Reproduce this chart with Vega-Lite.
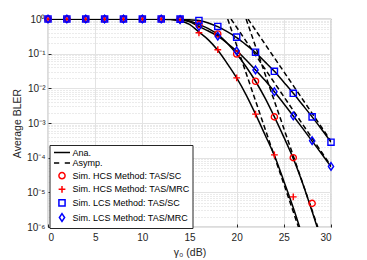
{
  "$schema": "https://vega.github.io/schema/vega-lite/v6.json",
  "width": 283,
  "height": 208,
  "autosize": "none",
  "padding": {"left": 48, "top": 19, "right": 36, "bottom": 33},
  "background": "white",
  "config": {
    "font": "Liberation Sans",
    "view": {"stroke": "#262626", "strokeWidth": 0.8},
    "axis": {"labelFont": "Liberation Sans", "titleFont": "Liberation Sans", "labelColor": "#262626", "titleColor": "#262626", "titleFontWeight": "normal", "labelFontSize": 10, "titleFontSize": 10.5}
  },
  "datasets": {
    "sim": [
      {"x":0,"y":1,"s":"Sim. HCS Method: TAS/SC"},{"x":2,"y":1,"s":"Sim. HCS Method: TAS/SC"},{"x":4,"y":1,"s":"Sim. HCS Method: TAS/SC"},{"x":6,"y":1,"s":"Sim. HCS Method: TAS/SC"},{"x":8,"y":1,"s":"Sim. HCS Method: TAS/SC"},{"x":10,"y":1,"s":"Sim. HCS Method: TAS/SC"},{"x":12,"y":1,"s":"Sim. HCS Method: TAS/SC"},{"x":14,"y":0.97,"s":"Sim. HCS Method: TAS/SC"},{"x":16,"y":0.69,"s":"Sim. HCS Method: TAS/SC"},{"x":18,"y":0.37,"s":"Sim. HCS Method: TAS/SC"},{"x":20,"y":0.098,"s":"Sim. HCS Method: TAS/SC"},{"x":22,"y":0.016,"s":"Sim. HCS Method: TAS/SC"},{"x":24,"y":0.0015,"s":"Sim. HCS Method: TAS/SC"},{"x":26,"y":0.0001,"s":"Sim. HCS Method: TAS/SC"},{"x":28,"y":0.0000048,"s":"Sim. HCS Method: TAS/SC"},
      {"x":0,"y":1,"s":"Sim. HCS Method: TAS/MRC"},{"x":2,"y":1,"s":"Sim. HCS Method: TAS/MRC"},{"x":4,"y":1,"s":"Sim. HCS Method: TAS/MRC"},{"x":6,"y":1,"s":"Sim. HCS Method: TAS/MRC"},{"x":8,"y":1,"s":"Sim. HCS Method: TAS/MRC"},{"x":10,"y":1,"s":"Sim. HCS Method: TAS/MRC"},{"x":12,"y":1,"s":"Sim. HCS Method: TAS/MRC"},{"x":14,"y":0.92,"s":"Sim. HCS Method: TAS/MRC"},{"x":16,"y":0.4,"s":"Sim. HCS Method: TAS/MRC"},{"x":18,"y":0.13,"s":"Sim. HCS Method: TAS/MRC"},{"x":20,"y":0.02,"s":"Sim. HCS Method: TAS/MRC"},{"x":22,"y":0.0018,"s":"Sim. HCS Method: TAS/MRC"},{"x":24,"y":0.00012,"s":"Sim. HCS Method: TAS/MRC"},{"x":26,"y":0.0000074,"s":"Sim. HCS Method: TAS/MRC"},
      {"x":0,"y":1,"s":"Sim. LCS Method: TAS/SC"},{"x":2,"y":1,"s":"Sim. LCS Method: TAS/SC"},{"x":4,"y":1,"s":"Sim. LCS Method: TAS/SC"},{"x":6,"y":1,"s":"Sim. LCS Method: TAS/SC"},{"x":8,"y":1,"s":"Sim. LCS Method: TAS/SC"},{"x":10,"y":1,"s":"Sim. LCS Method: TAS/SC"},{"x":12,"y":1,"s":"Sim. LCS Method: TAS/SC"},{"x":14,"y":0.99,"s":"Sim. LCS Method: TAS/SC"},{"x":16,"y":0.91,"s":"Sim. LCS Method: TAS/SC"},{"x":18,"y":0.61,"s":"Sim. LCS Method: TAS/SC"},{"x":20,"y":0.3,"s":"Sim. LCS Method: TAS/SC"},{"x":22,"y":0.11,"s":"Sim. LCS Method: TAS/SC"},{"x":24,"y":0.031,"s":"Sim. LCS Method: TAS/SC"},{"x":26,"y":0.0072,"s":"Sim. LCS Method: TAS/SC"},{"x":28,"y":0.0015,"s":"Sim. LCS Method: TAS/SC"},{"x":30,"y":0.00028,"s":"Sim. LCS Method: TAS/SC"},
      {"x":0,"y":1,"s":"Sim. LCS Method: TAS/MRC"},{"x":2,"y":1,"s":"Sim. LCS Method: TAS/MRC"},{"x":4,"y":1,"s":"Sim. LCS Method: TAS/MRC"},{"x":6,"y":1,"s":"Sim. LCS Method: TAS/MRC"},{"x":8,"y":1,"s":"Sim. LCS Method: TAS/MRC"},{"x":10,"y":1,"s":"Sim. LCS Method: TAS/MRC"},{"x":12,"y":1,"s":"Sim. LCS Method: TAS/MRC"},{"x":14,"y":0.96,"s":"Sim. LCS Method: TAS/MRC"},{"x":16,"y":0.61,"s":"Sim. LCS Method: TAS/MRC"},{"x":18,"y":0.32,"s":"Sim. LCS Method: TAS/MRC"},{"x":20,"y":0.12,"s":"Sim. LCS Method: TAS/MRC"},{"x":22,"y":0.034,"s":"Sim. LCS Method: TAS/MRC"},{"x":24,"y":0.008,"s":"Sim. LCS Method: TAS/MRC"},{"x":26,"y":0.0016,"s":"Sim. LCS Method: TAS/MRC"},{"x":28,"y":0.00031,"s":"Sim. LCS Method: TAS/MRC"},{"x":30,"y":0.000056,"s":"Sim. LCS Method: TAS/MRC"}
    ],
    "ana": [
      {"x":0,"y":1,"c":"hmrc"},{"x":5,"y":1,"c":"hmrc"},{"x":10,"y":0.9999,"c":"hmrc"},{"x":11,"y":0.999,"c":"hmrc"},{"x":12,"y":0.99,"c":"hmrc"},{"x":13,"y":0.965,"c":"hmrc"},{"x":14,"y":0.89,"c":"hmrc"},{"x":15,"y":0.7,"c":"hmrc"},{"x":16,"y":0.42,"c":"hmrc"},{"x":17,"y":0.25,"c":"hmrc"},{"x":18,"y":0.125,"c":"hmrc"},{"x":19,"y":0.052,"c":"hmrc"},{"x":20,"y":0.02,"c":"hmrc"},{"x":21,"y":0.0065,"c":"hmrc"},{"x":22,"y":0.0018,"c":"hmrc"},{"x":23,"y":0.00046,"c":"hmrc"},{"x":24,"y":0.000115,"c":"hmrc"},{"x":25,"y":0.000021,"c":"hmrc"},{"x":26,"y":0.0000036,"c":"hmrc"},{"x":27,"y":0.00000052,"c":"hmrc"},
      {"x":0,"y":1,"c":"hsc"},{"x":5,"y":1,"c":"hsc"},{"x":10,"y":1,"c":"hsc"},{"x":11,"y":0.9995,"c":"hsc"},{"x":12,"y":0.997,"c":"hsc"},{"x":13,"y":0.99,"c":"hsc"},{"x":14,"y":0.96,"c":"hsc"},{"x":15,"y":0.87,"c":"hsc"},{"x":16,"y":0.69,"c":"hsc"},{"x":17,"y":0.53,"c":"hsc"},{"x":18,"y":0.36,"c":"hsc"},{"x":19,"y":0.2,"c":"hsc"},{"x":20,"y":0.098,"c":"hsc"},{"x":21,"y":0.042,"c":"hsc"},{"x":22,"y":0.016,"c":"hsc"},{"x":23,"y":0.0053,"c":"hsc"},{"x":24,"y":0.0015,"c":"hsc"},{"x":25,"y":0.00039,"c":"hsc"},{"x":26,"y":0.000095,"c":"hsc"},{"x":27,"y":0.000018,"c":"hsc"},{"x":28,"y":0.0000028,"c":"hsc"},{"x":29,"y":0.0000004,"c":"hsc"},
      {"x":0,"y":1,"c":"lmrc"},{"x":5,"y":1,"c":"lmrc"},{"x":10,"y":1,"c":"lmrc"},{"x":11,"y":0.9995,"c":"lmrc"},{"x":12,"y":0.997,"c":"lmrc"},{"x":13,"y":0.985,"c":"lmrc"},{"x":14,"y":0.95,"c":"lmrc"},{"x":15,"y":0.83,"c":"lmrc"},{"x":16,"y":0.61,"c":"lmrc"},{"x":17,"y":0.45,"c":"lmrc"},{"x":18,"y":0.32,"c":"lmrc"},{"x":19,"y":0.2,"c":"lmrc"},{"x":20,"y":0.12,"c":"lmrc"},{"x":21,"y":0.066,"c":"lmrc"},{"x":22,"y":0.034,"c":"lmrc"},{"x":23,"y":0.017,"c":"lmrc"},{"x":24,"y":0.008,"c":"lmrc"},{"x":25,"y":0.0036,"c":"lmrc"},{"x":26,"y":0.0016,"c":"lmrc"},{"x":27,"y":0.0007,"c":"lmrc"},{"x":28,"y":0.0003,"c":"lmrc"},{"x":29,"y":0.00013,"c":"lmrc"},{"x":30,"y":0.000055,"c":"lmrc"},
      {"x":0,"y":1,"c":"lsc"},{"x":5,"y":1,"c":"lsc"},{"x":10,"y":1,"c":"lsc"},{"x":11,"y":0.9998,"c":"lsc"},{"x":12,"y":0.999,"c":"lsc"},{"x":13,"y":0.995,"c":"lsc"},{"x":14,"y":0.98,"c":"lsc"},{"x":15,"y":0.95,"c":"lsc"},{"x":16,"y":0.9,"c":"lsc"},{"x":17,"y":0.77,"c":"lsc"},{"x":18,"y":0.6,"c":"lsc"},{"x":19,"y":0.43,"c":"lsc"},{"x":20,"y":0.29,"c":"lsc"},{"x":21,"y":0.18,"c":"lsc"},{"x":22,"y":0.107,"c":"lsc"},{"x":23,"y":0.058,"c":"lsc"},{"x":24,"y":0.031,"c":"lsc"},{"x":25,"y":0.015,"c":"lsc"},{"x":26,"y":0.0072,"c":"lsc"},{"x":27,"y":0.0033,"c":"lsc"},{"x":28,"y":0.0015,"c":"lsc"},{"x":29,"y":0.00066,"c":"lsc"},{"x":30,"y":0.00028,"c":"lsc"}
    ],
    "asym": [
      {"x":19.05,"y":1,"c":"hmrc"},{"x":26.55,"y":0.000001,"c":"hmrc"},
      {"x":21.0,"y":1,"c":"hsc"},{"x":28.6,"y":0.000001,"c":"hsc"},
      {"x":19.4,"y":1,"c":"lmrc"},{"x":30,"y":0.0000575,"c":"lmrc"},
      {"x":21.2,"y":1,"c":"lsc"},{"x":30,"y":0.0003,"c":"lsc"}
    ]
  },
  "resolve": {"axis": {"y": "independent"}},
  "layer": [
    {
      "data": {"name": "ana"},
      "mark": {"type": "line", "color": "black", "strokeWidth": 1.5, "interpolate": "monotone", "clip": true},
      "encoding": {
        "x": {"field": "x", "type": "quantitative", "scale": {"domain": [0, 30], "nice": false},
          "axis": {"values": [0,5,10,15,20,25,30], "title": "γ₀ (dB)", "grid": true, "gridColor": "#e3e3e3", "domain": false, "tickSize": -3, "tickColor": "#262626", "labelPadding": 8, "titlePadding": 5}},
        "y": {"field": "y", "type": "quantitative", "scale": {"type": "log", "domain": [0.000001, 1], "nice": false},
          "axis": {"values": [0.000001,0.00001,0.0001,0.001,0.01,0.1,1], "title": "Average BLER", "grid": true, "gridColor": "#e3e3e3", "domain": false, "tickSize": -3, "tickColor": "#262626", "labelPadding": 6, "titlePadding": 4,
            "labelExpr": "'10' + ['⁰','⁻¹','⁻²','⁻³','⁻⁴','⁻⁵','⁻⁶'][round(-log(datum.value)/LN10)]"}},
        "detail": {"field": "c"}
      }
    },
    {
      "data": {"name": "asym"},
      "mark": {"type": "line", "color": "black", "strokeWidth": 1.5, "strokeDash": [5, 3], "clip": true},
      "encoding": {
        "x": {"field": "x", "type": "quantitative"},
        "y": {"field": "y", "type": "quantitative",
          "axis": {"orient": "left", "values": [0.000002,0.000003,0.000004,0.000005,0.000006,0.000007,0.000008,0.000009,0.00002,0.00003,0.00004,0.00005,0.00006,0.00007,0.00008,0.00009,0.0002,0.0003,0.0004,0.0005,0.0006,0.0007,0.0008,0.0009,0.002,0.003,0.004,0.005,0.006,0.007,0.008,0.009,0.02,0.03,0.04,0.05,0.06,0.07,0.08,0.09,0.2,0.3,0.4,0.5,0.6,0.7,0.8,0.9],
            "grid": true, "gridDash": [1, 2], "gridColor": "#d6d6d6", "labels": false, "ticks": false, "domain": false, "title": null}},
        "detail": {"field": "c"}
      }
    },
    {
      "data": {"name": "sim"},
      "mark": {"type": "point", "filled": false, "strokeWidth": 1.4, "size": 38, "opacity": 1},
      "encoding": {
        "x": {"field": "x", "type": "quantitative"},
        "y": {"field": "y", "type": "quantitative", "axis": null},
        "color": {"field": "s", "type": "nominal",
          "scale": {"domain": ["Ana.", "Asymp.", "Sim. HCS Method: TAS/SC", "Sim. HCS Method: TAS/MRC", "Sim. LCS Method: TAS/SC", "Sim. LCS Method: TAS/MRC"],
            "range": ["#000000", "#000000", "#ff0000", "#ff0000", "#0000ff", "#0000ff"]},
          "legend": {"title": null, "orient": "none", "legendX": 1.5, "legendY": 126, "fillColor": "white", "strokeColor": "#262626", "padding": 3, "cornerRadius": 0, "labelFontSize": 9, "labelFont": "Liberation Sans", "labelColor": "#000000", "symbolStrokeWidth": 1.5, "symbolSize": 38, "symbolOffset": 5, "labelOffset": 6, "rowPadding": 0.6}},
        "shape": {"field": "s", "type": "nominal",
          "scale": {"domain": ["Ana.", "Asymp.", "Sim. HCS Method: TAS/SC", "Sim. HCS Method: TAS/MRC", "Sim. LCS Method: TAS/SC", "Sim. LCS Method: TAS/MRC"],
            "range": ["M-2.6,0H2.6", "M-2.6,0H-0.9M0.9,0H2.6", "circle", "M-1.1,0H1.1M0,-1.1V1.1", "square", "M0,-1.25L0.85,0L0,1.25L-0.85,0Z"]}}
      }
    }
  ]
}
